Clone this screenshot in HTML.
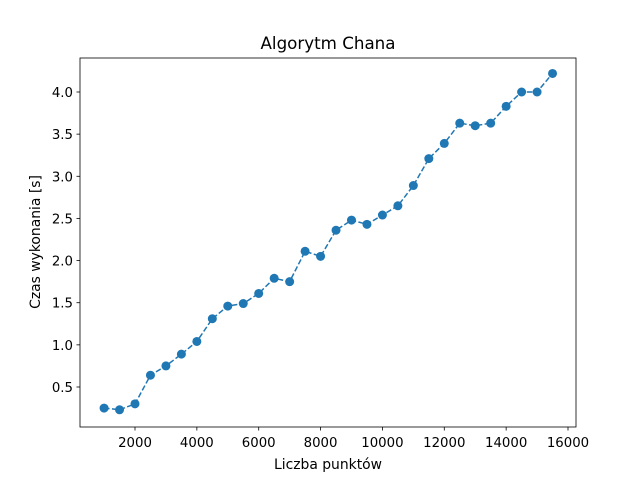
<!DOCTYPE html>
<html><head><meta charset="utf-8"><style>
body{margin:0;background:#fff;}
svg text{font-family:"DejaVu Sans","Liberation Sans",sans-serif;fill:#000;}
</style></head><body>
<svg id="chart" width="640" height="480">
<rect width="640" height="480" fill="#fff"/>
<text x="328" y="49" font-size="16.7" text-anchor="middle">Algorytm Chana</text>
<g id="ticks"></g>
<path id="line" fill="none" stroke="#1f77b4" stroke-width="1.5" stroke-dasharray="5.5,2.4"/>
<g id="pts"></g>
<rect x="80" y="58" width="496" height="369" fill="none" stroke="#000" stroke-width="0.8"/>
<text x="328" y="469" font-size="13.9" text-anchor="middle">Liczba punktów</text>
<text transform="translate(40,242) rotate(-90)" font-size="13.9" text-anchor="middle">Czas wykonania [s]</text>
</svg>
<script>
const xs=[1000,1500,2000,2500,3000,3500,4000,4500,5000,5500,6000,6500,7000,7500,8000,8500,9000,9500,10000,10500,11000,11500,12000,12500,13000,13500,14000,14500,15000,15500];
const ys=[0.25,0.23,0.30,0.64,0.75,0.89,1.04,1.31,1.46,1.49,1.61,1.79,1.75,2.11,2.05,2.36,2.48,2.43,2.54,2.65,2.89,3.21,3.39,3.63,3.60,3.63,3.83,4.00,4.00,4.22];
const xTicks=[2000,4000,6000,8000,10000,12000,14000,16000];
const yTicks=[0.5,1.0,1.5,2.0,2.5,3.0,3.5,4.0];
const X=v=>135+(v-2000)*(568-135)/14000;
const Y=v=>387-(v-0.5)*(387-92)/3.5;
const NS="http://www.w3.org/2000/svg";
const tg=document.getElementById('ticks');
xTicks.forEach(t=>{
 const l=document.createElementNS(NS,'line');
 l.setAttribute('x1',X(t));l.setAttribute('x2',X(t));l.setAttribute('y1',427);l.setAttribute('y2',430.5);l.setAttribute('stroke','#000');l.setAttribute('stroke-width','0.8');
 
 
 tg.appendChild(l);
 const s=document.createElementNS(NS,'text');
 s.setAttribute('x',X(t));s.setAttribute('y',447);s.setAttribute('font-size','13.3');s.setAttribute('text-anchor','middle');s.textContent=t;
 
 
 tg.appendChild(s);
});
yTicks.forEach(t=>{
 const l=document.createElementNS(NS,'line');
 l.setAttribute('x1',76.5);l.setAttribute('x2',80);l.setAttribute('y1',Y(t));l.setAttribute('y2',Y(t));l.setAttribute('stroke','#000');l.setAttribute('stroke-width','0.8');
 
 
 tg.appendChild(l);
 const s=document.createElementNS(NS,'text');
 s.setAttribute('x',73);s.setAttribute('y',Y(t)+5);s.setAttribute('font-size','13.3');s.setAttribute('text-anchor','end');s.textContent=t.toFixed(1);
 
 
 tg.appendChild(s);
});
document.getElementById('line').setAttribute('d',xs.map((x,i)=>(i?'L':'M')+X(x)+','+Y(ys[i])).join(''));
const pg=document.getElementById('pts');
xs.forEach((x,i)=>{
 const c=document.createElementNS(NS,'circle');
 c.setAttribute('cx',X(x));c.setAttribute('cy',Y(ys[i]));c.setAttribute('r',4.5);c.setAttribute('fill','#1f77b4');
 
 
 pg.appendChild(c);
});
</script>
</body></html>
